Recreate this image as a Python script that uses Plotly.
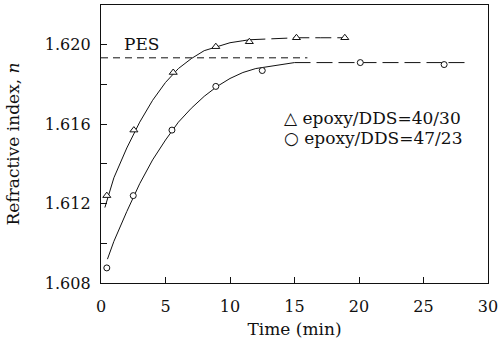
import plotly.graph_objects as go

# ---- data ----
tri_x = [0.45, 2.55, 5.6, 8.9, 11.5, 15.15, 18.9]
tri_y = [1.6124, 1.6157, 1.6186, 1.6199, 1.62015, 1.62035, 1.62035]

cir_x = [0.45, 2.5, 5.5, 8.9, 12.5, 20.1, 26.6]
cir_y = [1.60876, 1.6124, 1.6157, 1.6179, 1.6187, 1.6191, 1.6190]

# fitted curves
tri_fit_x = [0.3, 1, 2, 3, 4, 5, 6, 7, 8, 9, 10, 11, 11.5]
tri_fit_y = [1.6118, 1.6133, 1.6148, 1.6161, 1.6172, 1.6181, 1.6188, 1.6193,
             1.6197, 1.6199, 1.6201, 1.6202, 1.62025]
tri_tail_x = [11.5, 13, 15.15, 17, 18.9]
tri_tail_y = [1.62025, 1.6203, 1.62035, 1.62035, 1.62035]

cir_fit_x = [0.5, 1, 2, 3, 4, 5, 6, 7, 8, 9, 10, 11, 12, 13, 14, 15]
cir_fit_y = [1.6092, 1.6101, 1.6116, 1.6130, 1.6142, 1.6152, 1.6161, 1.6168,
             1.6174, 1.6179, 1.6183, 1.6186, 1.6188, 1.6189, 1.6190, 1.6191]
cir_tail_x = [15, 18, 21, 24, 28.2]
cir_tail_y = [1.6191, 1.6191, 1.6191, 1.6191, 1.6191]

pes_x = [0, 16]
pes_y = [1.61934, 1.61934]

x_ticks = [0, 5, 10, 15, 20, 25, 30]
y_ticks = [1.608, 1.610, 1.612, 1.614, 1.616, 1.618, 1.620]
y_labels = ["1.608", "", "1.612", "", "1.616", "", "1.620"]

legend_labels = ["△ epoxy/DDS=40/30", "○ epoxy/DDS=47/23"]

FONT = "DejaVu Serif"
LC = "#111111"

fig = go.Figure()

def line(x, y, dash="solid", width=1):
    fig.add_trace(go.Scatter(x=x, y=y, mode="lines", showlegend=False,
                             line=dict(color=LC, width=width, dash=dash),
                             hoverinfo="skip"))

line(pes_x, pes_y, dash="7px,5px", width=1)
line(tri_fit_x, tri_fit_y)
line(tri_tail_x, tri_tail_y, dash="16px,6px")
line(cir_fit_x, cir_fit_y)
line(cir_tail_x, cir_tail_y, dash="16px,6px")

fig.add_trace(go.Scatter(x=tri_x, y=tri_y, mode="markers", showlegend=False,
                         marker=dict(symbol="triangle-up", size=7, color="white",
                                     line=dict(color=LC, width=1))))
fig.add_trace(go.Scatter(x=cir_x, y=cir_y, mode="markers", showlegend=False,
                         marker=dict(symbol="circle", size=6, color="white",
                                     line=dict(color=LC, width=1))))

fig.add_annotation(x=1.6, y=1.62005, xref="x", yref="y", text="PES",
                   showarrow=False, xanchor="left", yanchor="middle",
                   font=dict(family=FONT, size=17, color=LC))

for i, t in enumerate(legend_labels):
    fig.add_annotation(x=0.467, y=[0.595, 0.523][i], xref="paper", yref="paper",
                       text=t, showarrow=False, xanchor="left", yanchor="middle",
                       font=dict(family=FONT, size=17, color=LC))

fig.update_layout(
    width=502, height=345,
    margin=dict(l=101, r=11, t=4, b=62),
    paper_bgcolor="white", plot_bgcolor="white",
    font=dict(family=FONT, size=16, color=LC),
    xaxis=dict(range=[0, 30], tickvals=x_ticks, ticks="inside", ticklen=6,
               tickcolor=LC, showline=True, linecolor=LC, linewidth=1.3,
               mirror=True, showgrid=False, zeroline=False,
               ticklabelstandoff=9,
               title=dict(text="Time (min)", font=dict(family=FONT, size=17),
                          standoff=7)),
    yaxis=dict(range=[1.608, 1.622], tickvals=y_ticks, ticktext=y_labels,
               ticks="inside", ticklen=6, tickcolor=LC, showline=True,
               linecolor=LC, linewidth=1.3, mirror=True, showgrid=False,
               zeroline=False, ticklabelstandoff=6,
               title=dict(text="Refractive index, <i>n</i>",
                          font=dict(family=FONT, size=17), standoff=20)),
)

fig.write_html("out.html")
